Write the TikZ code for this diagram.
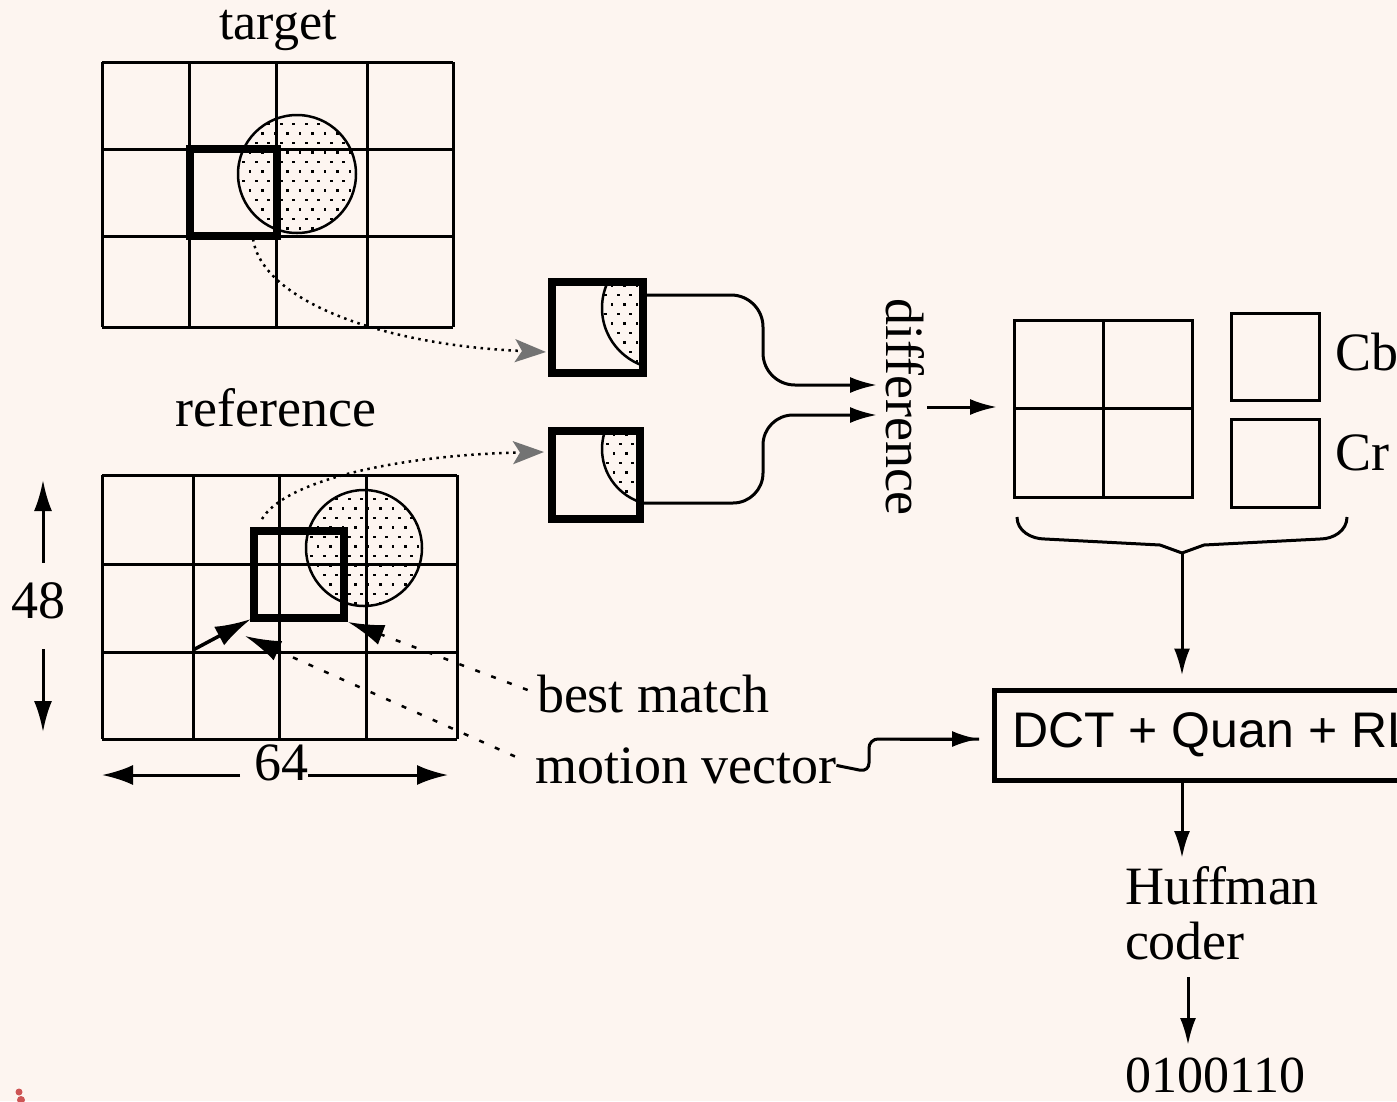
\documentclass[tikz,border=0pt]{standalone}
\usepackage{fontspec}
\setmainfont{Liberation Serif}
\newfontfamily\dctfont{Liberation Sans}
\usetikzlibrary{arrows.meta}
\definecolor{bgc}{RGB}{253,245,240}
\definecolor{artred}{RGB}{205,85,85}
\newcommand{\mystipple}[4]{%
  \foreach \j in {0,...,#4}{\foreach \i in {0,...,#3}{%
    \fill ({#1+12.5*\i+6.25*mod(\j,2)},{#2+9.5*\j}) rectangle ++(2.8,2.8);}}}
\begin{document}
\begin{tikzpicture}[x=1pt,y=-1pt,
  gridln/.style={line width=3pt},
  thickbox/.style={draw, line width=7.5pt, inner sep=0pt, outer sep=0pt},
  plainbox/.style={draw, line width=3pt, inner sep=0pt, outer sep=0pt},
  conn/.style={line width=3pt, -{Latex[length=27pt,width=16pt]}},
  bigtip/.style={line width=3.5pt, -{Latex[length=36pt,width=21pt]}},
  leader/.style={line width=2.5pt, dash pattern=on 5pt off 12pt, -{Latex[length=36pt,width=21pt]}},
  dotconn/.style={line width=2.5pt, dash pattern=on 2.5pt off 4.5pt,
    -{Stealth[length=31pt,width=23pt,inset=7pt,color=black!55,fill=black!55]}},
  lbl/.style={inner sep=0pt, outer sep=0pt, font=\fontsize{54}{55}\selectfont},
  circ/.style={line width=2.5pt}]
\fill[bgc] (0,0) rectangle (1397,1101);
\useasboundingbox (0,0) rectangle (1397,1101);
\clip (0,0) rectangle (1397,1101);

% ---------------- target ----------------
\node[lbl, anchor=base, font=\fontsize{52}{54}\selectfont] (tlabel) at (278,39) {target};
\begin{scope}
  \clip (297,174) circle (59);
  \mystipple{236}{113}{10}{14}
\end{scope}
\draw[circ] (297,174) circle (59);
\foreach \x in {102,189,276,367,453} \draw[gridln] (\x,62) -- (\x,327);
\foreach \y in {62,149,236,327} \draw[gridln] (102,\y) -- (453,\y);
\node[thickbox, minimum width=87pt, minimum height=87pt] (tsq) at (233.5,192.5) {};

% ---------------- reference ----------------
\node[lbl, anchor=base] (rlabel) at (276,426) {reference};
\begin{scope}
  \clip (364,548) circle (58);
  \mystipple{304}{488}{10}{14}
\end{scope}
\draw[circ] (364,548) circle (58);
\foreach \x in {102,193,279,366,457} \draw[gridln] (\x,475) -- (\x,739);
\foreach \y in {475,564,652,739} \draw[gridln] (102,\y) -- (457,\y);
\node[thickbox, minimum width=90pt, minimum height=87pt] (rsq) at (299,574.5) {};

% dimensions
\node[lbl] (n48) at (39,601) {48};
\coordinate (up48) at (43,480);
\coordinate (dn48) at (43,732);
\draw[conn, shorten <=20pt, -{Latex[length=31pt,width=18pt]}] (n48.north -| up48) -- (up48);
\draw[conn, shorten <=30pt, -{Latex[length=31pt,width=18pt]}] (n48.south -| dn48) -- (dn48);
\node[lbl, anchor=base] (n64) at (281,780) {64};
\coordinate (lt64) at (102,775);
\coordinate (rt64) at (448,775);
\draw[conn, shorten <=14pt, -{Latex[length=31pt,width=20pt]}] (n64.west |- lt64) -- (lt64);
\draw[conn, -{Latex[length=31pt,width=20pt]}] (n64.east |- rt64) -- (rt64);

% motion vector arrows in reference frame
\coordinate (mv0) at (193,650);
\coordinate (mv1) at (251,619);
\draw[bigtip] (mv0) -- (mv1);
\node[lbl, anchor=base west] (bm) at (537,712) {best match};
\node[lbl, anchor=base west] (mv) at (535,783) {motion vector};
\coordinate (bmtip) at (348,622);
\coordinate (mvtip) at (245,636);
\draw[leader, shorten <=10pt] (bm.west) -- (bmtip);
\draw[leader, shorten <=22pt] (mv.west) -- (mvtip);

% ---------------- extracted blocks ----------------
\begin{scope}
  \clip (556,286) rectangle (639,369);
  \begin{scope}
    \clip (663,308) circle (61);
    \mystipple{598}{284}{4}{9}
  \end{scope}
  \draw[circ] (663,308) circle (61);
\end{scope}
\node[thickbox, minimum width=91pt, minimum height=91pt] (tb) at (597.5,327.5) {};
\begin{scope}
  \clip (556,435) rectangle (636,515);
  \begin{scope}
    \clip (658,449) circle (56);
    \mystipple{600}{433}{4}{9}
  \end{scope}
  \draw[circ] (658,449) circle (56);
\end{scope}
\node[thickbox, minimum width=88pt, minimum height=88pt] (rb) at (596,475) {};

% dotted transfer arrows
\coordinate (t0) at (253,239);
\coordinate (t1) at (546,352);
\coordinate (r0) at (262,519);
\coordinate (r1) at (544,452);
\draw[dotconn] (t0) .. controls (262,300) and (380,345) .. (t1);
\draw[dotconn] (r0) .. controls (285,480) and (400,455) .. (r1);

% ---------------- difference ----------------
\node[lbl, rotate=-90] (diff) at (905,407) {difference};
\coordinate (din1) at (877,385);
\coordinate (din2) at (877,415);
\draw[conn, rounded corners=32pt] ([yshift=-13pt]tb.north east) -- (763,295) -- (763,385) -- (din1);
\draw[conn, rounded corners=30pt] ([yshift=16pt]rb.south east) -- (763,503) -- (763,415) -- (din2);

% ---------------- Y Cb Cr ----------------
\node[plainbox, minimum width=178pt, minimum height=177pt] (ygrid) at (1103,408.5) {};
\draw[gridln] (ygrid.north) -- (ygrid.south);
\draw[gridln] (ygrid.west) -- (ygrid.east);
\node[plainbox, minimum width=88pt, minimum height=87pt] (cb) at (1275,356.5) {};
\node[plainbox, minimum width=88pt, minimum height=88pt] (cr) at (1275,463) {};
\node[lbl, anchor=base west] (cblbl) at (1335,370) {Cb};
\node[lbl, anchor=base west] (crlbl) at (1335,470) {Cr};
\draw[conn, shorten <=3pt, shorten >=17pt] (diff.north) -- (ygrid.west |- diff.north);

% brace
\coordinate (bt) at (1182,553);
\draw[line width=3pt] (1017,517) to[out=-90,in=180] (1045,539) -- (1160,545) -- (bt) -- (1204,545) -- (1320,539) to[out=0,in=-90] (1347,517);

% ---------------- DCT ----------------
\node[draw, line width=5pt, inner sep=0pt, outer sep=0pt, minimum width=480pt, minimum height=90pt, anchor=north west] (dct) at (994.5,690.5) {};
\node[inner sep=0pt, anchor=base west, font=\dctfont\fontsize{50}{52}\selectfont] (dcttxt) at (1012,747) {DCT + Quan + RLE};
\draw[conn, shorten >=15pt] (bt) -- (bt |- dct.north);
\coordinate (mvin) at (979,739);
\draw[conn, -, rounded corners=9pt] (mv.east) -- (869,772) -- (869,739) -- (mvin);
\draw[conn] (900,739) -- (mvin);

% ---------------- Huffman ----------------
\node[lbl, align=left, anchor=north west] (huff) at (1125,866) {Huffman\\coder};
\coordinate (hin) at (1182,858);
\draw[conn] (dct.south -| bt) -- (hin);
\node[lbl, anchor=base west, font=\fontsize{52}{54}\selectfont] (bits) at (1125,1092) {0100110};
\coordinate (hout) at (1188,977);
\coordinate (bin) at (1188,1045);
\draw[conn] (hout) -- (bin);

% small red mark at bottom-left corner
\fill[artred] (19,1092) circle (3.5);
\fill[artred] (21,1100) circle (4);
\end{tikzpicture}
\end{document}
